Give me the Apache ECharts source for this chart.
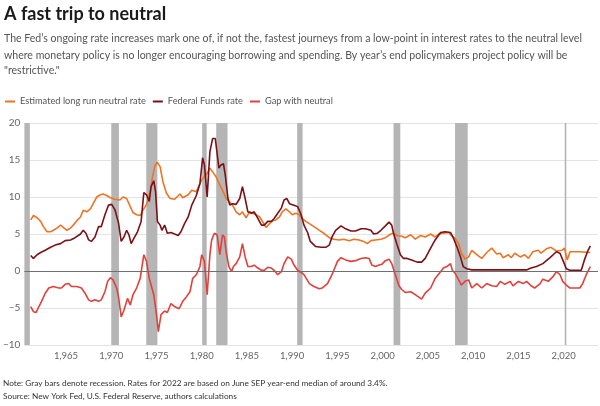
<!DOCTYPE html>
<html><head><meta charset="utf-8">
<script src="https://cdn.jsdelivr.net/npm/echarts@6/dist/echarts.min.js"></script>
<style>html,body{margin:0;padding:0;background:#fff}#c{width:600px;height:406px}</style>
</head><body><div id="c"></div><script>
// ---- data ----
const titleText = "A fast trip to neutral";
const subtitleLines = [
  "The Fed\u2019s ongoing rate increases mark one of, if not the, fastest journeys from a low-point in interest rates to the neutral level",
  "where monetary policy is no longer encouraging borrowing and spending. By year\u2019s end policymakers project policy will be",
  "\"restrictive.\""
];
const noteLines = [
  "Note: Gray bars denote recession. Rates for 2022 are based on June SEP year-end median of around 3.4%.",
  "Source: New York Fed, U.S. Federal Reserve, authors calculations"
];
const seriesNames = ["Estimated long run neutral rate", "Federal Funds rate", "Gap with neutral"];
const xTickYears = [1965, 1970, 1975, 1980, 1985, 1990, 1995, 2000, 2005, 2010, 2015, 2020];

const neutralYears = [1961.1,1961.4,1961.8,1962.2,1962.5,1962.9,1963.3,1963.6,1964.0,1964.4,1964.7,1965.1,1965.5,1965.8,1966.2,1966.6,1966.9,1967.3,1967.7,1968.0,1968.4,1968.8,1969.1,1969.5,1969.9,1970.4,1970.96,1971.3,1971.7,1972.1,1972.4,1972.8,1973.2,1973.5,1973.9,1974.3,1974.5,1974.8,1975.07,1975.4,1975.7,1976.1,1976.5,1977.0,1977.6,1977.9,1978.5,1978.9,1979.4,1979.8,1980.1,1980.5,1980.9,1981.2,1981.6,1982.0,1982.3,1982.7,1983.1,1983.4,1983.8,1984.2,1984.5,1984.9,1985.3,1985.6,1986.0,1986.4,1986.7,1987.1,1987.5,1987.8,1988.2,1988.6,1988.9,1989.3,1989.7,1990.0,1990.4,1990.8,1991.1,1991.5,1991.9,1992.4,1993.0,1993.5,1994.1,1994.6,1995.2,1995.7,1996.3,1996.8,1997.4,1997.9,1998.3,1998.7,1999.2,1999.8,2000.3,2000.9,2001.2,2001.6,2002.1,2002.5,2003.1,2003.6,2004.2,2004.7,2005.3,2005.8,2006.2,2006.7,2007.3,2007.6,2008.0,2008.4,2008.7,2009.1,2009.5,2009.85,2010.4,2010.95,2011.5,2012.05,2012.6,2013.0,2013.3,2013.9,2014.2,2014.6,2015.2,2015.7,2016.1,2016.6,2017.2,2017.5,2018.1,2018.6,2019.2,2019.8,2020.1,2020.4,2020.7,2021.8,2022.95];
const neutralVals = [6.9,7.5,7.2,6.7,6.0,5.3,5.3,5.5,5.8,6.2,5.9,5.5,5.8,6.2,6.8,7.3,8.2,8.0,8.4,9.1,10.0,10.3,10.4,10.2,9.9,9.7,9.6,10.0,9.8,8.7,7.9,7.6,7.5,8.2,9.0,10.7,12.3,14.1,14.7,14.1,12.1,10.5,9.8,9.7,10.4,9.9,10.3,10.9,10.7,11.8,12.5,13.0,13.9,13.4,12.7,11.6,10.9,9.8,9.3,8.9,8.0,7.6,8.0,7.2,8.0,7.8,7.6,7.3,6.7,5.9,6.4,6.8,6.9,7.3,8.0,8.4,8.0,7.6,7.8,7.6,7.1,6.7,6.4,6.0,5.5,5.1,4.5,4.3,4.2,4.3,4.1,4.3,4.2,4.0,3.7,4.1,4.2,4.3,4.5,5.0,5.1,4.8,4.7,4.5,4.9,4.3,4.8,4.6,5.0,4.6,5.0,5.1,5.2,4.8,4.4,3.7,2.4,1.6,1.9,2.8,2.2,1.7,2.5,3.1,2.3,2.4,1.8,2.2,1.8,2.4,1.9,2.2,1.7,2.6,2.8,2.4,3.0,3.2,2.7,2.8,3.1,1.5,2.6,2.6,2.5];

const fedYears = [1961.1,1961.4,1961.8,1962.2,1962.7,1963.3,1963.8,1964.4,1964.9,1965.5,1966.0,1966.6,1966.9,1967.2,1967.5,1967.8,1968.2,1968.6,1968.9,1969.3,1969.7,1970.05,1970.4,1970.8,1971.1,1971.4,1971.7,1971.95,1972.2,1972.5,1972.9,1973.3,1973.6,1973.9,1974.2,1974.4,1974.7,1974.9,1975.1,1975.4,1975.6,1975.9,1976.2,1976.6,1977.0,1977.4,1977.7,1978.1,1978.5,1978.9,1979.4,1979.8,1980.1,1980.3,1980.6,1980.9,1981.2,1981.5,1981.9,1982.1,1982.4,1982.6,1982.9,1983.1,1983.4,1983.8,1984.2,1984.5,1984.8,1985.1,1985.5,1985.8,1986.2,1986.6,1986.9,1987.3,1987.7,1988.0,1988.4,1988.8,1989.1,1989.4,1989.7,1990.2,1990.6,1990.96,1991.3,1991.7,1992.0,1992.6,1993.2,1993.7,1994.1,1994.4,1994.8,1995.4,1995.9,1996.5,1997.0,1997.6,1998.1,1998.7,1999.0,1999.4,1999.8,2000.3,2000.7,2001.0,2001.2,2001.6,2001.96,2002.3,2002.7,2003.2,2003.8,2004.3,2004.7,2005.3,2005.8,2006.4,2006.9,2007.5,2007.8,2008.2,2008.6,2008.9,2009.3,2009.85,2012.0,2015.9,2016.4,2017.0,2017.7,2018.5,2019.2,2019.6,2019.9,2020.3,2020.7,2021.95,2022.3,2022.7,2022.95];
const fedVals = [2.1,1.7,2.2,2.5,2.8,3.2,3.5,3.7,4.1,4.2,4.5,5.0,5.5,5.1,4.2,4.0,4.6,6.0,6.0,7.6,8.9,9.0,8.3,6.5,4.0,4.6,5.5,4.9,3.7,4.4,5.3,6.7,10.6,10.3,9.4,11.4,12.2,10.7,6.7,6.2,5.5,6.2,5.1,5.2,5.0,4.8,5.3,6.4,7.3,8.9,10.2,11.8,15.3,14.3,10.0,16.1,17.9,17.9,13.9,14.3,14.5,13.0,9.8,8.9,9.1,9.0,9.8,11.4,9.8,8.0,7.8,8.0,7.1,6.2,6.2,6.7,6.7,7.1,7.8,8.5,9.6,9.8,9.1,8.9,8.7,7.7,6.2,5.2,4.0,3.3,3.2,3.2,3.5,4.6,5.5,6.1,5.7,5.4,5.4,5.7,5.7,5.5,5.0,5.1,5.5,6.1,6.6,6.2,5.1,3.5,2.2,1.7,1.7,1.5,1.2,1.2,1.7,3.1,4.2,5.2,5.3,5.2,4.5,3.3,1.9,0.6,0.3,0.15,0.15,0.15,0.4,0.6,1.0,1.8,2.6,2.4,1.5,0.3,0.1,0.1,1.5,2.8,3.4];

const gapYears = [1961.1,1961.4,1961.7,1962.0,1962.3,1962.7,1963.1,1963.6,1964.2,1964.5,1964.9,1965.3,1965.6,1966.2,1966.7,1967.1,1967.5,1967.8,1968.2,1968.6,1968.9,1969.3,1969.6,1969.9,1970.2,1970.6,1970.8,1971.1,1971.4,1971.8,1972.1,1972.4,1972.8,1973.2,1973.6,1973.9,1974.2,1974.4,1974.7,1975.0,1975.2,1975.5,1975.9,1976.2,1976.6,1977.0,1977.5,1977.9,1978.3,1978.7,1979.0,1979.4,1979.8,1980.0,1980.3,1980.6,1980.9,1981.1,1981.4,1981.7,1982.0,1982.3,1982.5,1982.7,1983.0,1983.3,1983.5,1983.8,1984.2,1984.5,1984.8,1985.1,1985.5,1985.8,1986.2,1986.6,1986.9,1987.3,1987.7,1988.0,1988.4,1988.8,1989.1,1989.5,1989.9,1990.2,1990.6,1991.0,1991.3,1991.9,1992.4,1993.0,1993.3,1993.9,1994.4,1995.0,1995.4,1995.9,1996.5,1997.0,1997.6,1998.1,1998.5,1998.8,1999.2,1999.6,1999.9,2000.3,2000.7,2001.0,2001.4,2001.8,2002.1,2002.5,2003.1,2003.6,2004.3,2004.7,2005.3,2005.8,2006.4,2006.7,2007.1,2007.5,2007.7,2008.0,2008.4,2008.7,2009.1,2009.5,2009.85,2010.4,2010.95,2011.5,2012.05,2012.6,2013.0,2013.5,2014.1,2014.4,2015.0,2015.5,2015.9,2016.4,2016.8,2017.4,2017.7,2018.3,2018.8,2019.2,2019.6,2019.9,2020.3,2020.7,2021.8,2022.1,2022.5,2022.95];
const gapVals = [-4.8,-5.5,-5.6,-4.8,-4.1,-3.0,-2.3,-2.1,-2.3,-2.3,-1.8,-1.7,-2.1,-2.1,-2.3,-3.0,-3.9,-4.1,-3.9,-4.1,-3.9,-2.8,-1.4,-0.9,-1.2,-2.3,-3.5,-6.2,-5.3,-3.7,-4.6,-3.2,-2.3,-1.0,2.2,1.3,-1.0,-1.0,-3.2,-5.9,-8.2,-5.9,-5.4,-5.6,-4.4,-4.8,-5.1,-4.1,-3.5,-2.8,-1.0,-0.5,0.6,2.2,1.3,-3.2,2.2,4.2,5.1,4.9,2.2,4.9,4.6,2.6,0.6,-0.1,0.6,1.0,1.9,3.7,1.9,0.6,0.6,0.8,0.4,0.1,0.1,0.5,0.4,0.1,-0.5,-0.1,1.0,1.9,1.6,0.8,0.1,-0.2,-0.5,-1.7,-2.1,-2.4,-2.3,-1.7,-0.5,1.3,1.8,1.5,1.3,1.4,1.7,1.8,1.7,0.8,0.6,0.8,0.9,1.4,1.6,1.0,-0.5,-2.0,-2.5,-2.9,-2.8,-3.2,-3.8,-3.0,-2.3,-1.0,-0.1,0.4,0.6,1.0,0.1,-0.3,-1.2,-1.9,-1.4,-1.2,-2.3,-1.7,-2.3,-1.7,-2.0,-2.1,-1.4,-1.8,-1.4,-2.0,-1.4,-1.7,-1.4,-2.0,-2.3,-1.7,-1.1,-1.4,-0.8,-0.1,-0.5,-1.4,-1.9,-2.3,-2.3,-1.7,-0.5,0.6];

const recessionStarts = [1960.3, 1970.0, 1973.87, 1980.05, 1981.6, 1990.55, 2001.2, 2008.0, 2020.12];
const recessionEnds   = [1961.0, 1970.85, 1975.1, 1980.55, 1982.85, 1991.15, 2001.95, 2009.4, 2020.3];

// ---- chart ----
const FONT = "Lato, 'Noto Sans', sans-serif";
const colors = ['#ee7424', '#7b1116', '#e2403a'];
const pair = (xs, ys) => xs.map((x, i) => [x, ys[i]]);

// fit font sizes so text spans the same width as in the reference
const mctx = document.createElement('canvas').getContext('2d');
function fitSize(text, targetW, base, weight) {
  mctx.font = (weight ? weight + ' ' : '') + base + 'px ' + FONT;
  return Math.min(base * 1.2, base * targetW / mctx.measureText(text).width);
}
const subSize = fitSize(subtitleLines[0], 578, 12);
const noteSize = fitSize(noteLines[0], 385, 10);
const legSize = fitSize(seriesNames[0], 126, 10);

const chart = echarts.init(document.getElementById('c'), null, {renderer: 'canvas'});
const graphics = [
  {type: 'text', x: 4, y: 14, style: {text: titleText, font: 'bold 18px ' + FONT, fill: '#1a1a1a', verticalAlign: 'middle'}}
];
[39, 55.5, 71].forEach((yy, i) => graphics.push({type: 'text', x: 4, y: yy,
  style: {text: subtitleLines[i], font: subSize.toFixed(2) + 'px ' + FONT, fill: '#555', verticalAlign: 'middle'}}));
[383.5, 396].forEach((yy, i) => graphics.push({type: 'text', x: 3, y: yy,
  style: {text: noteLines[i], font: noteSize.toFixed(2) + 'px ' + FONT, fill: '#333', verticalAlign: 'middle'}}));

chart.setOption({
  animation: false,
  backgroundColor: '#fff',
  color: colors,
  graphic: graphics,
  legend: {
    left: 0, top: 92, icon: 'rect', itemWidth: 10, itemHeight: 2, itemGap: 7, selectedMode: false,
    textStyle: {fontSize: legSize, color: '#555', fontFamily: FONT},
    data: seriesNames
  },
  grid: {left: 22, right: 2, top: 123, bottom: 61, containLabel: false},
  xAxis: {
    type: 'value', min: 1960.4, max: 2023.8,
    axisLine: {show: false}, axisTick: {show: false}, splitLine: {show: false},
    axisLabel: {customValues: xTickYears, color: '#666', fontSize: 9.5, fontFamily: FONT, margin: 6}
  },
  yAxis: {
    type: 'value', min: -10, max: 20, interval: 5,
    axisLine: {show: false}, axisTick: {show: false},
    splitLine: {lineStyle: {color: '#e3e3e3', width: 1}},
    axisLabel: {color: '#666', fontSize: 10, fontFamily: FONT, margin: 4,
      formatter: v => String(v).replace('-', '\u2212')}
  },
  series: [
    {
      name: seriesNames[0], type: 'line', data: pair(neutralYears, neutralVals),
      showSymbol: false, lineStyle: {width: 1.6}, z: 3,
      markArea: {silent: true, itemStyle: {color: '#b5b5b5'},
        data: recessionStarts.map((s, i) => [{xAxis: s}, {xAxis: recessionEnds[i]}])},
      markLine: {silent: true, symbol: 'none', label: {show: false},
        lineStyle: {color: '#6f6f6f', width: 1, type: 'solid'}, data: [{yAxis: 0}]}
    },
    {name: seriesNames[1], type: 'line', data: pair(fedYears, fedVals), showSymbol: false, lineStyle: {width: 1.6}, z: 4},
    {name: seriesNames[2], type: 'line', data: pair(gapYears, gapVals), showSymbol: false, lineStyle: {width: 1.6}, z: 3}
  ]
});
</script></body></html>
